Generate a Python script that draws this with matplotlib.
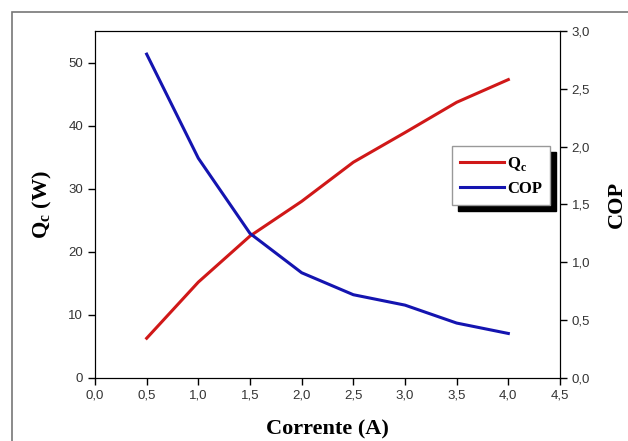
import matplotlib.pyplot as plt
from matplotlib.patches import Rectangle
from matplotlib.ticker import FuncFormatter, MultipleLocator

# dados
corrente = [0.5, 1.0, 1.5, 2.0, 2.5, 3.0, 3.5, 4.0]
qc = [6.3, 15.2, 22.5, 28.0, 34.2, 38.9, 43.7, 47.3]
cop = [2.80, 1.90, 1.25, 0.91, 0.72, 0.63, 0.475, 0.385]

serif = ["Liberation Serif", "DejaVu Serif"]
sans = ["Liberation Sans", "DejaVu Sans"]
tick_color = "#333333"

fig = plt.figure(figsize=(6.28, 4.41), dpi=100)
fig.patches.append(Rectangle((12 / 628, -0.1), 1.0, 1 - 12 / 441 + 0.1,
                             transform=fig.transFigure, fill=False,
                             edgecolor="#777777", linewidth=1.2))

ax = fig.add_axes([95 / 628, 1 - 378 / 441, 465 / 628, 347 / 441])
ax2 = ax.twinx()

l1, = ax.plot(corrente, qc, color="#d01818", linewidth=2.2, label="Q$_\\mathregular{c}$")
l2, = ax2.plot(corrente, cop, color="#1414b0", linewidth=2.2, label="COP")

ax.set_xlim(0, 4.5)
ax.set_ylim(0, 55)
ax2.set_ylim(0, 3.0)
ax.xaxis.set_major_locator(MultipleLocator(0.5))
ax.yaxis.set_major_locator(MultipleLocator(10))
ax2.yaxis.set_major_locator(MultipleLocator(0.5))

virgula = FuncFormatter(lambda v, p: f"{v:.1f}".replace(".", ","))
ax.xaxis.set_major_formatter(virgula)
ax2.yaxis.set_major_formatter(virgula)

for a in (ax, ax2):
    a.tick_params(direction="out", length=5, width=1, labelsize=9.5,
                  labelcolor=tick_color)
    for lab in a.get_xticklabels() + a.get_yticklabels():
        lab.set_family(sans)
ax.tick_params(top=False)

ax.set_xlabel("Corrente (A)", family=serif, fontsize=16, fontweight="bold",
              labelpad=13)
ax.set_ylabel("Q$_\\mathregular{c}$ (W)", family=serif, fontsize=16,
              fontweight="bold", labelpad=10)
ax2.set_ylabel("COP", family=serif, fontsize=16, fontweight="bold", labelpad=12)

leg = ax2.legend(handles=[l1, l2], loc="upper left",
                 bbox_to_anchor=(0.768, 0.668), frameon=True, fancybox=False,
                 shadow={"color": "black", "alpha": 1.0, "ox": 4, "oy": -4},
                 prop={"family": serif, "weight": "bold", "size": 12},
                 handlelength=2.6, handletextpad=0.2, borderpad=0.5,
                 labelspacing=0.5, borderaxespad=0)
leg.get_frame().set_edgecolor("#999999")
leg.get_frame().set_linewidth(1.0)

plt.savefig("out.png", dpi=100)
